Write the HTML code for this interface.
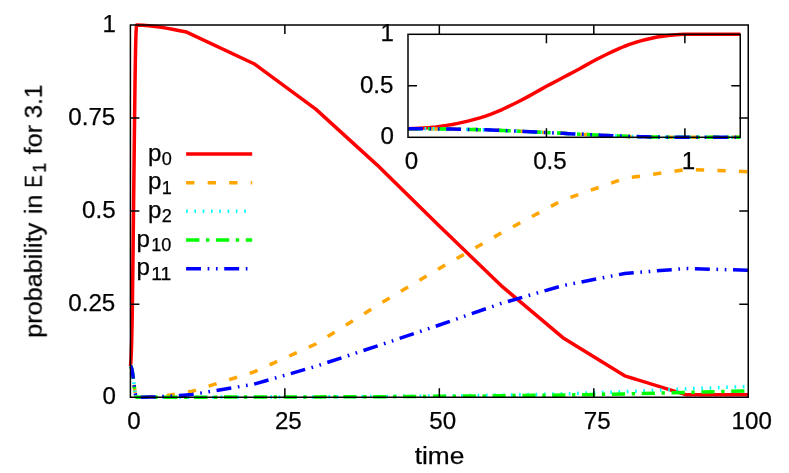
<!DOCTYPE html>
<html><head><meta charset="utf-8"><title>plot</title>
<style>html,body{margin:0;padding:0;background:#fff;}svg{display:block;}text{font-family:"Liberation Sans",sans-serif;fill:#000;stroke:#000;stroke-width:0.25px;}.tx{opacity:0.999;}</style>
</head><body>
<svg width="789" height="473" viewBox="0 0 789 473">
<rect x="0" y="0" width="789" height="473" fill="#ffffff"/>
<g class="tx">
<text x="127.18" y="428.50" font-size="23.00" textLength="13.43" lengthAdjust="spacingAndGlyphs">0</text>
<text x="274.93" y="428.50" font-size="23.00" textLength="26.86" lengthAdjust="spacingAndGlyphs">25</text>
<text x="429.39" y="428.50" font-size="23.00" textLength="26.86" lengthAdjust="spacingAndGlyphs">50</text>
<text x="583.86" y="428.50" font-size="23.00" textLength="26.86" lengthAdjust="spacingAndGlyphs">75</text>
<text x="731.60" y="428.50" font-size="23.00" textLength="40.30" lengthAdjust="spacingAndGlyphs">100</text>
<text x="102.59" y="404.05" font-size="23.00" textLength="13.43" lengthAdjust="spacingAndGlyphs">0</text>
<text x="68.31" y="310.99" font-size="23.00" textLength="47.01" lengthAdjust="spacingAndGlyphs">0.25</text>
<text x="82.02" y="217.93" font-size="23.00" textLength="33.58" lengthAdjust="spacingAndGlyphs">0.5</text>
<text x="68.31" y="124.86" font-size="23.00" textLength="47.01" lengthAdjust="spacingAndGlyphs">0.75</text>
<text x="102.59" y="31.80" font-size="23.00" textLength="13.43" lengthAdjust="spacingAndGlyphs">1</text>
<text x="404.78" y="168.60" font-size="23.00" textLength="13.43" lengthAdjust="spacingAndGlyphs">0</text>
<text x="533.15" y="168.60" font-size="23.00" textLength="33.58" lengthAdjust="spacingAndGlyphs">0.5</text>
<text x="681.66" y="168.60" font-size="23.00" textLength="13.43" lengthAdjust="spacingAndGlyphs">1</text>
<text x="380.49" y="144.10" font-size="23.00" textLength="13.43" lengthAdjust="spacingAndGlyphs">0</text>
<text x="359.92" y="92.60" font-size="23.00" textLength="33.58" lengthAdjust="spacingAndGlyphs">0.5</text>
<text x="380.49" y="41.10" font-size="23.00" textLength="13.43" lengthAdjust="spacingAndGlyphs">1</text>
<text x="414.65" y="463.80" font-size="23.00" textLength="49.70" lengthAdjust="spacingAndGlyphs">time</text>
<g transform="translate(41.7,211.1) rotate(-90)">
<text x="-126.66" y="0.00" font-size="23.00" textLength="114.95" lengthAdjust="spacingAndGlyphs">probability</text>
<text x="-2.99" y="0.00" font-size="23.00" textLength="19.56" lengthAdjust="spacingAndGlyphs">in</text>
<text x="23.41" y="0.00" font-size="23.00" textLength="12.51" lengthAdjust="spacingAndGlyphs">E</text>
<text x="38.28" y="4.00" font-size="18.40" textLength="10.07" lengthAdjust="spacingAndGlyphs">1</text>
<text x="56.79" y="0.00" font-size="23.00" textLength="29.49" lengthAdjust="spacingAndGlyphs">for</text>
<text x="92.76" y="0.00" font-size="23.00" textLength="33.58" lengthAdjust="spacingAndGlyphs">3.1</text>
</g>
</g>
<g class="tx">
<text x="161.87" y="164.90" font-size="18.40" textLength="10.07" lengthAdjust="spacingAndGlyphs">0</text>
<text x="148.12" y="160.60" font-size="23.00" textLength="13.41" lengthAdjust="spacingAndGlyphs">p</text>
</g>
<path d="M186.1,153.90H252.2" stroke="#ff0000" stroke-width="3.50" fill="none"/>
<g class="tx">
<text x="161.87" y="193.65" font-size="18.40" textLength="10.07" lengthAdjust="spacingAndGlyphs">1</text>
<text x="148.12" y="189.35" font-size="23.00" textLength="13.41" lengthAdjust="spacingAndGlyphs">p</text>
</g>
<path d="M186.1,182.65H252.2" stroke="#ffa500" stroke-width="3.50" fill="none" stroke-dasharray="8.29 13.26"/>
<g class="tx">
<text x="161.87" y="222.30" font-size="18.40" textLength="10.07" lengthAdjust="spacingAndGlyphs">2</text>
<text x="148.12" y="218.00" font-size="23.00" textLength="13.41" lengthAdjust="spacingAndGlyphs">p</text>
</g>
<path d="M186.1,211.30H252.2" stroke="#00ffff" stroke-width="3.50" fill="none" stroke-dasharray="1.66 6.63"/>
<g class="tx">
<text x="151.23" y="251.00" font-size="18.40" textLength="20.15" lengthAdjust="spacingAndGlyphs">10</text>
<text x="136.62" y="246.70" font-size="23.00" textLength="13.41" lengthAdjust="spacingAndGlyphs">p</text>
</g>
<path d="M186.1,240.00H252.2" stroke="#00ff00" stroke-width="3.50" fill="none" stroke-dasharray="13.26 6.63 3.32 6.63"/>
<g class="tx">
<text x="151.23" y="279.65" font-size="18.40" textLength="20.15" lengthAdjust="spacingAndGlyphs">11</text>
<text x="136.62" y="275.35" font-size="23.00" textLength="13.41" lengthAdjust="spacingAndGlyphs">p</text>
</g>
<path d="M186.1,268.65H252.2" stroke="#0000ff" stroke-width="3.50" fill="none" stroke-dasharray="14.92 6.63 1.66 6.63 1.66 6.63"/>
<g fill="none" stroke-width="3.50" stroke-linejoin="round" stroke-linecap="butt">
<polyline points="130.40,366.24 130.52,365.51 130.65,364.59 130.77,363.36 130.89,361.75 131.02,359.65 131.14,357.09 131.26,354.13 131.39,350.74 131.51,346.88 131.64,342.53 131.76,337.75 131.88,332.57 132.01,326.87 132.13,320.55 132.25,313.49 132.38,305.58 132.50,296.89 132.62,287.60 132.75,277.87 132.87,267.89 132.99,257.47 133.12,246.50 133.24,235.25 133.37,223.99 133.49,212.99 133.61,202.30 133.74,191.75 133.86,181.25 133.98,170.74 134.11,160.13 134.23,149.25 134.35,138.17 134.48,127.12 134.60,116.37 134.72,106.15 134.85,96.33 134.97,86.74 135.10,77.59 135.22,69.10 135.34,61.48 135.47,54.77 135.59,48.81 135.71,43.57 135.84,39.00 135.96,35.05 136.08,31.83 136.21,29.37 136.33,27.51 136.45,26.10 136.58,25.00 142.76,25.19 148.94,25.74 155.11,26.49 161.29,27.23 167.47,28.35 173.65,29.47 179.83,30.77 186.62,32.07 253.97,63.71 315.75,109.13 377.54,165.34 439.33,226.01 501.11,285.57 562.89,337.69 624.68,375.85 686.47,394.87 748.25,394.79" stroke="#ff0000"/>
<polyline points="130.40,366.23 130.52,366.29 130.65,366.38 130.77,366.49 130.89,366.64 131.02,366.83 131.14,367.06 131.26,367.33 131.39,367.64 131.51,367.99 131.64,368.38 131.76,368.82 131.88,369.29 132.01,369.81 132.13,370.38 132.25,371.02 132.38,371.74 132.50,372.53 132.62,373.38 132.75,374.26 132.87,375.17 132.99,376.12 133.12,377.11 133.24,378.14 133.37,379.16 133.49,380.16 133.61,381.13 133.74,382.09 133.86,383.05 133.98,384.00 134.11,384.97 134.23,385.95 134.35,386.96 134.48,387.97 134.60,388.94 134.72,389.87 134.85,390.77 134.97,391.64 135.10,392.47 135.22,393.24 135.34,393.93 135.47,394.54 135.59,395.09 135.71,395.56 135.84,395.98 135.96,396.34 136.08,396.63 136.21,396.85 136.33,397.02 136.45,397.15 136.58,397.25 142.76,397.06 148.94,396.88 155.11,396.51 161.29,395.95 167.47,395.39 173.65,394.46 179.83,393.53 186.01,392.41 192.19,391.29 253.97,371.94 315.75,344.02 377.54,305.30 439.33,268.45 501.11,233.09 562.89,199.96 624.68,178.37 686.47,169.43 748.25,171.67" stroke="#ffa500" stroke-dasharray="8.29 13.26" stroke-dashoffset="2.5"/>
<polyline points="130.40,366.23 130.52,366.29 130.65,366.38 130.77,366.49 130.89,366.64 131.02,366.83 131.14,367.06 131.26,367.33 131.39,367.64 131.51,367.99 131.64,368.38 131.76,368.82 131.88,369.29 132.01,369.81 132.13,370.38 132.25,371.02 132.38,371.74 132.50,372.53 132.62,373.38 132.75,374.26 132.87,375.17 132.99,376.12 133.12,377.11 133.24,378.14 133.37,379.16 133.49,380.16 133.61,381.13 133.74,382.09 133.86,383.05 133.98,384.00 134.11,384.97 134.23,385.95 134.35,386.96 134.48,387.97 134.60,388.94 134.72,389.87 134.85,390.77 134.97,391.64 135.10,392.47 135.22,393.24 135.34,393.93 135.47,394.54 135.59,395.09 135.71,395.56 135.84,395.98 135.96,396.34 136.08,396.63 136.21,396.85 136.33,397.02 136.45,397.15 136.58,397.25 142.76,397.25 192.19,397.18 253.97,397.06 315.75,396.88 377.54,396.51 439.33,395.95 501.11,395.20 562.89,393.90 624.68,391.67 686.47,388.87 748.25,386.45" stroke="#00ffff" stroke-dasharray="1.66 6.63"/>
<polyline points="130.40,366.23 130.52,366.29 130.65,366.38 130.77,366.49 130.89,366.64 131.02,366.83 131.14,367.06 131.26,367.33 131.39,367.64 131.51,367.99 131.64,368.38 131.76,368.82 131.88,369.29 132.01,369.81 132.13,370.38 132.25,371.02 132.38,371.74 132.50,372.53 132.62,373.38 132.75,374.26 132.87,375.17 132.99,376.12 133.12,377.11 133.24,378.14 133.37,379.16 133.49,380.16 133.61,381.13 133.74,382.09 133.86,383.05 133.98,384.00 134.11,384.97 134.23,385.95 134.35,386.96 134.48,387.97 134.60,388.94 134.72,389.87 134.85,390.77 134.97,391.64 135.10,392.47 135.22,393.24 135.34,393.93 135.47,394.54 135.59,395.09 135.71,395.56 135.84,395.98 135.96,396.34 136.08,396.63 136.21,396.85 136.33,397.02 136.45,397.15 136.58,397.25 142.76,397.25 192.19,397.18 253.97,397.06 315.75,396.88 377.54,396.69 439.33,396.32 501.11,395.76 562.89,395.02 624.68,393.90 686.47,392.34 748.25,390.85" stroke="#00ff00" stroke-dasharray="13.26 6.63 3.32 6.63"/>
<polyline points="130.40,366.23 130.52,366.29 130.65,366.38 130.77,366.49 130.89,366.64 131.02,366.83 131.14,367.06 131.26,367.33 131.39,367.64 131.51,367.99 131.64,368.38 131.76,368.82 131.88,369.29 132.01,369.81 132.13,370.38 132.25,371.02 132.38,371.74 132.50,372.53 132.62,373.38 132.75,374.26 132.87,375.17 132.99,376.12 133.12,377.11 133.24,378.14 133.37,379.16 133.49,380.16 133.61,381.13 133.74,382.09 133.86,383.05 133.98,384.00 134.11,384.97 134.23,385.95 134.35,386.96 134.48,387.97 134.60,388.94 134.72,389.87 134.85,390.77 134.97,391.64 135.10,392.47 135.22,393.24 135.34,393.93 135.47,394.54 135.59,395.09 135.71,395.56 135.84,395.98 135.96,396.34 136.08,396.63 136.21,396.85 136.33,397.02 136.45,397.15 136.58,397.25 142.76,397.14 148.94,397.03 155.11,396.88 161.29,396.62 167.47,396.32 173.65,395.95 179.83,395.50 186.01,395.02 192.19,394.46 253.97,384.22 315.75,366.35 377.54,345.88 439.33,325.03 501.11,303.44 562.89,285.57 624.68,273.48 686.47,268.45 748.25,270.31" stroke="#0000ff" stroke-dasharray="14.92 6.63 1.66 6.63 1.66 6.63" stroke-dashoffset="2.0"/>
<polyline points="408.00,128.72 413.54,128.52 419.07,128.26 424.61,127.92 430.15,127.48 435.69,126.90 441.23,126.19 446.76,125.37 452.30,124.43 457.84,123.36 463.38,122.16 468.91,120.84 474.45,119.40 479.99,117.83 485.53,116.08 491.06,114.12 496.60,111.94 502.14,109.53 507.68,106.96 513.21,104.27 518.75,101.51 524.29,98.62 529.83,95.59 535.36,92.47 540.90,89.36 546.44,86.31 551.98,83.36 557.51,80.44 563.05,77.53 568.59,74.62 574.12,71.69 579.66,68.68 585.20,65.61 590.74,62.56 596.27,59.58 601.81,56.75 607.35,54.04 612.89,51.38 618.42,48.85 623.96,46.50 629.50,44.39 635.04,42.54 640.58,40.89 646.11,39.44 651.65,38.17 657.19,37.08 662.73,36.19 668.26,35.51 673.80,34.99 679.34,34.61 684.88,34.30 740.25,34.31" stroke="#ff0000"/>
<polyline points="408.00,128.72 413.54,128.73 419.07,128.76 424.61,128.79 430.15,128.83 435.69,128.88 441.23,128.95 446.76,129.02 452.30,129.11 457.84,129.20 463.38,129.31 468.91,129.43 474.45,129.56 479.99,129.71 485.53,129.87 491.06,130.04 496.60,130.24 502.14,130.46 507.68,130.69 513.21,130.94 518.75,131.19 524.29,131.45 529.83,131.73 535.36,132.01 540.90,132.29 546.44,132.57 551.98,132.84 557.51,133.11 563.05,133.37 568.59,133.63 574.12,133.90 579.66,134.17 585.20,134.45 590.74,134.73 596.27,135.00 601.81,135.26 607.35,135.51 612.89,135.75 618.42,135.98 623.96,136.19 629.50,136.38 635.04,136.55 640.58,136.70 646.11,136.83 651.65,136.95 657.19,137.05 662.73,137.13 668.26,137.19 673.80,137.24 679.34,137.27 684.88,137.30 740.25,137.29" stroke="#ffa500" stroke-dasharray="8.29 13.26"/>
<polyline points="408.00,128.72 413.54,128.73 419.07,128.76 424.61,128.79 430.15,128.83 435.69,128.88 441.23,128.95 446.76,129.02 452.30,129.11 457.84,129.20 463.38,129.31 468.91,129.43 474.45,129.56 479.99,129.71 485.53,129.87 491.06,130.04 496.60,130.24 502.14,130.46 507.68,130.69 513.21,130.94 518.75,131.19 524.29,131.45 529.83,131.73 535.36,132.01 540.90,132.29 546.44,132.57 551.98,132.84 557.51,133.11 563.05,133.37 568.59,133.63 574.12,133.90 579.66,134.17 585.20,134.45 590.74,134.73 596.27,135.00 601.81,135.26 607.35,135.51 612.89,135.75 618.42,135.98 623.96,136.19 629.50,136.38 635.04,136.55 640.58,136.70 646.11,136.83 651.65,136.95 657.19,137.05 662.73,137.13 668.26,137.19 673.80,137.24 679.34,137.27 684.88,137.30 740.25,137.30" stroke="#00ffff" stroke-dasharray="1.66 6.63"/>
<polyline points="408.00,128.72 413.54,128.73 419.07,128.76 424.61,128.79 430.15,128.83 435.69,128.88 441.23,128.95 446.76,129.02 452.30,129.11 457.84,129.20 463.38,129.31 468.91,129.43 474.45,129.56 479.99,129.71 485.53,129.87 491.06,130.04 496.60,130.24 502.14,130.46 507.68,130.69 513.21,130.94 518.75,131.19 524.29,131.45 529.83,131.73 535.36,132.01 540.90,132.29 546.44,132.57 551.98,132.84 557.51,133.11 563.05,133.37 568.59,133.63 574.12,133.90 579.66,134.17 585.20,134.45 590.74,134.73 596.27,135.00 601.81,135.26 607.35,135.51 612.89,135.75 618.42,135.98 623.96,136.19 629.50,136.38 635.04,136.55 640.58,136.70 646.11,136.83 651.65,136.95 657.19,137.05 662.73,137.13 668.26,137.19 673.80,137.24 679.34,137.27 684.88,137.30 740.25,137.30" stroke="#00ff00" stroke-dasharray="13.26 6.63 3.32 6.63"/>
<polyline points="408.00,128.72 413.54,128.73 419.07,128.76 424.61,128.79 430.15,128.83 435.69,128.88 441.23,128.95 446.76,129.02 452.30,129.11 457.84,129.20 463.38,129.31 468.91,129.43 474.45,129.56 479.99,129.71 485.53,129.87 491.06,130.04 496.60,130.24 502.14,130.46 507.68,130.69 513.21,130.94 518.75,131.19 524.29,131.45 529.83,131.73 535.36,132.01 540.90,132.29 546.44,132.57 551.98,132.84 557.51,133.11 563.05,133.37 568.59,133.63 574.12,133.90 579.66,134.17 585.20,134.45 590.74,134.73 596.27,135.00 601.81,135.26 607.35,135.51 612.89,135.75 618.42,135.98 623.96,136.19 629.50,136.38 635.04,136.55 640.58,136.70 646.11,136.83 651.65,136.95 657.19,137.05 662.73,137.13 668.26,137.19 673.80,137.24 679.34,137.27 684.88,137.30 740.25,137.29" stroke="#0000ff" stroke-dasharray="14.92 6.63 1.66 6.63 1.66 6.63"/>
</g>
<g stroke="#000" stroke-width="1.50" fill="none" stroke-linecap="butt">
<rect x="130.40" y="25.00" width="617.85" height="372.25"/>
<path d="M284.86,397.25V388.25M284.86,25.00V34.00"/>
<path d="M439.33,397.25V388.25M439.33,25.00V34.00"/>
<path d="M593.79,397.25V388.25M593.79,25.00V34.00"/>
<path d="M130.40,304.19H139.40M748.25,304.19H739.25"/>
<path d="M130.40,211.12H139.40M748.25,211.12H739.25"/>
<path d="M130.40,118.06H139.40M748.25,118.06H739.25"/>
<rect x="408.00" y="34.30" width="332.25" height="103.00"/>
<path d="M546.44,137.30V128.30M546.44,34.30V43.30"/>
<path d="M684.88,137.30V128.30M684.88,34.30V43.30"/>
<path d="M408.00,85.80H417.00M740.25,85.80H731.25"/>
</g>
</svg></body></html>
